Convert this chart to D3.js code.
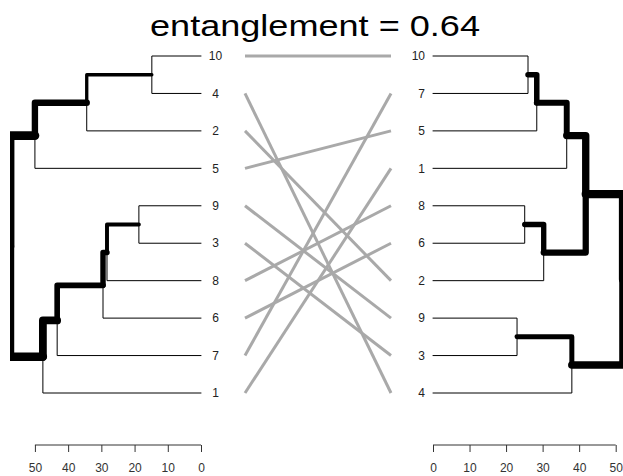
<!DOCTYPE html>
<html>
<head>
<meta charset="utf-8">
<title>tanglegram</title>
<script src="https://d3js.org/d3.v7.min.js"></script>
<style>
body { margin: 0; background: #fff; }
text { font-family: "Liberation Sans", Arial, sans-serif; }
.edges path { fill: none; stroke: #000; stroke-linecap: round; stroke-linejoin: round; }
.axis text { font-size: 12px; fill: #333; }
.axis line, .axis .baseline { stroke: #333; }
</style>
</head>
<body>
<svg width="623" height="476"></svg>
<script>
// leaves top to bottom, merges like hclust (negative = leaf index, positive = earlier merge)
var leftLabels = ["10", "4", "2", "5", "9", "3", "8", "6", "7", "1"];
var leftMerge = [[-1, -2], [1, -3], [2, -4], [-5, -6], [4, -7], [5, -8], [6, -9], [7, -10], [3, 8]];
var leftHeight = [14.8, 34.4, 50, 18.7, 28.3, 29.5, 43.3, 47.6, 57.5];

var rightLabels = ["10", "7", "5", "1", "8", "6", "2", "9", "3", "4"];
var rightMerge = [[-1, -2], [1, -3], [2, -4], [-5, -6], [4, -7], [3, 5], [-8, -9], [7, -10], [6, 8]];
var rightHeight = [26, 28.4, 36.6, 25.1, 30.3, 41.8, 23, 38, 52];

var axisTicks = [0, 10, 20, 30, 40, 50];
var title = "entanglement = 0.64";

var svg = d3.select("svg");

var y = d3.scalePoint().domain(d3.range(leftLabels.length)).range([56, 393]);
var xLeft = d3.scaleLinear().domain([d3.max(leftHeight), 0]).range([10, 201]);
var xRight = d3.scaleLinear().domain([0, d3.max(rightHeight)]).range([433, 623]);

function buildTree(merge, heights, labels) {
  var nodes = [];
  function get(i) {
    return i < 0 ? {label: labels[-i - 1], h: 0, y: y(-i - 1)} : nodes[i - 1];
  }
  merge.forEach(function(m, k) {
    var a = get(m[0]), b = get(m[1]);
    nodes.push({h: heights[k], children: [a, b], y: (a.y + b.y) / 2});
  });
  return nodes[nodes.length - 1];
}

function drawTree(g, node, x, lw) {
  if (!node.children) return;
  node.children.forEach(function(c) {
    g.append("path")
      .attr("d", "M" + x(node.h) + "," + node.y + "V" + c.y + "H" + x(c.h))
      .attr("stroke-width", c.children ? lw(c.h) : 1);
    drawTree(g, c, x, lw);
  });
}

svg.append("clipPath").attr("id", "clipL")
  .append("rect").attr("x", 10).attr("y", 0).attr("width", 300).attr("height", 476);

// connecting lines
svg.append("g")
  .selectAll("line")
  .data(leftLabels)
  .join("line")
    .attr("x1", 245).attr("x2", 391)
    .attr("y1", function(d, i) { return y(i); })
    .attr("y2", function(d) { return y(rightLabels.indexOf(d)); })
    .attr("stroke", "#a9a9a9")
    .attr("stroke-width", 3);

var leftTree = buildTree(leftMerge, leftHeight, leftLabels);
var rightTree = buildTree(rightMerge, rightHeight, rightLabels);

drawTree(svg.append("g").attr("class", "edges").attr("clip-path", "url(#clipL)"),
  leftTree, xLeft, d3.scaleLinear().domain([0, d3.max(leftHeight)]).range([1, 10]));
drawTree(svg.append("g").attr("class", "edges"),
  rightTree, xRight, d3.scaleLinear().domain([0, d3.max(rightHeight)]).range([1, 10]));

// leaf labels
svg.append("g")
  .selectAll("text")
  .data(leftLabels)
  .join("text")
    .attr("x", 215.5)
    .attr("y", function(d, i) { return y(i); })
    .attr("dy", "0.35em")
    .attr("text-anchor", "middle")
    .attr("font-size", 12)
    .attr("fill", "#222")
    .text(function(d) { return d; });

svg.append("g")
  .selectAll("text")
  .data(rightLabels)
  .join("text")
    .attr("x", 425)
    .attr("y", function(d, i) { return y(i); })
    .attr("dy", "0.35em")
    .attr("text-anchor", "end")
    .attr("font-size", 12)
    .attr("fill", "#222")
    .text(function(d) { return d; });

// axes
function drawAxis(x) {
  var g = svg.append("g")
    .attr("class", "axis")
    .attr("transform", "translate(0,445)")
    .call(d3.axisBottom(x).tickValues(axisTicks).tickSize(7).tickPadding(11));
  g.select(".domain").remove();
  g.selectAll("text").attr("font-family", null);
  g.append("line").attr("class", "baseline")
    .attr("x1", x(0)).attr("x2", x(50));
}
drawAxis(xLeft);
drawAxis(xRight);

svg.append("text")
  .attr("x", 315)
  .attr("y", 36)
  .attr("text-anchor", "middle")
  .attr("font-size", 30)
  .attr("textLength", 330)
  .attr("lengthAdjust", "spacingAndGlyphs")
  .attr("fill", "#000")
  .text(title);
</script>
</body>
</html>
